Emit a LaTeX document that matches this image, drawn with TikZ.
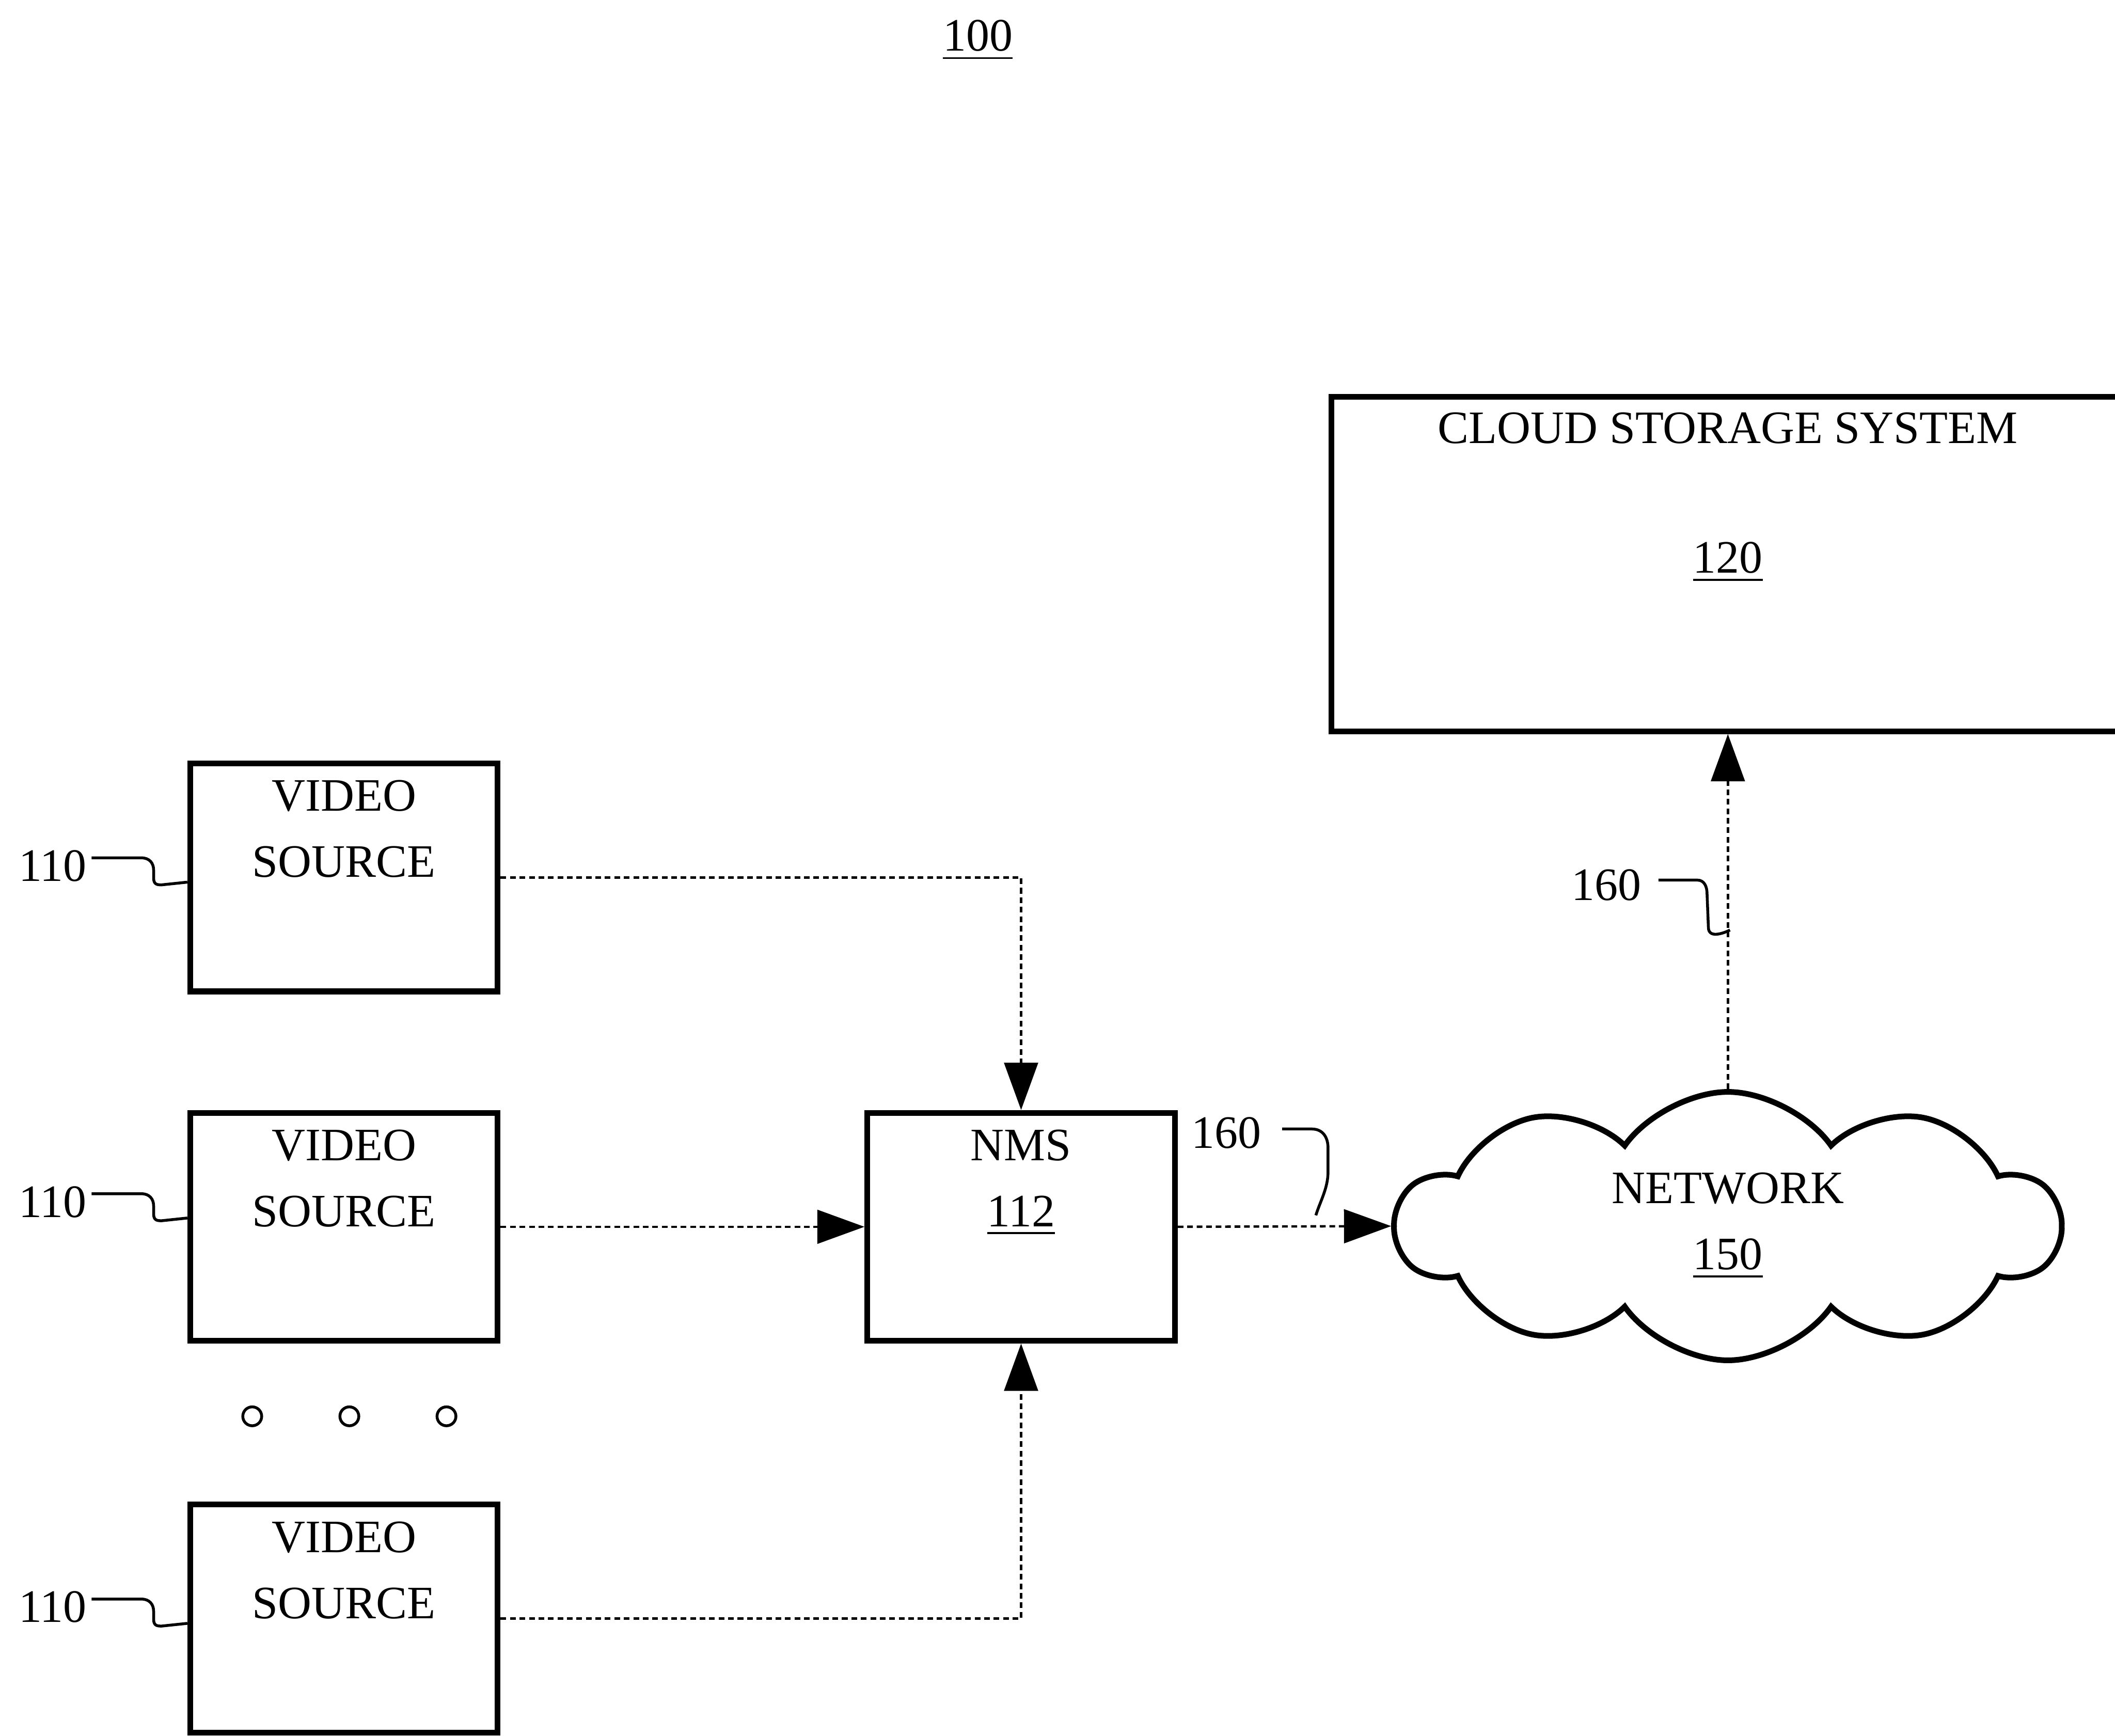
\documentclass[tikz,border=0pt]{standalone}
\usepackage{fontspec}
\setmainfont{Liberation Serif}
\usetikzlibrary{arrows.meta,positioning,shapes.symbols}

\begin{document}
\begin{tikzpicture}[
  box/.style={draw, line width=1.2pt, minimum width=2.28cm, minimum height=1.69cm, inner sep=0pt},
  boxtext/.style={align=center, inner sep=0pt, font=\fontsize{9.8}{13.9}\selectfont},
  refnum/.style={inner sep=0pt, font=\fontsize{9.8}{13.9}\selectfont},
  link/.style={line width=0.5pt, dash pattern=on 1.2pt off 0.8pt, -{Triangle[length=3.5mm, width=2.5mm]}},
  leader/.style={line width=0.6pt},
  dotmark/.style={circle, draw, line width=0.6pt, minimum size=0.14cm, inner sep=0pt}]
  \path[use as bounding box, clip] (0,0) rectangle (15.68,12.87);

  \node[refnum] (fig) at (7.25,12.57) {\underline{100}};

  % storage box runs off the right edge
  \node[box, anchor=north west, minimum width=6.5cm, minimum height=2.48cm] (css) at (9.85,9.95) {};
  \node[boxtext, below=0.13cm of css.north west, xshift=2.96cm, anchor=north] (css-title) {CLOUD STORAGE SYSTEM};
  \node[boxtext] (css-num) at (12.81,8.70) {\underline{120}};

  % sources
  \node[box] (vs1) at (2.55,6.365) {};
  \node[box] (vs2) at (2.55,3.775) {};
  \node[box] (vs3) at (2.55,0.87) {};
  \foreach \s in {vs1,vs2,vs3}
    \node[boxtext, below=0.14cm of \s.north] (\s-txt) {VIDEO\\SOURCE};
  \foreach \x [count=\i] in {1.87,2.59,3.31}
    \node[dotmark] (dot\i) at (\x,2.37) {};

  \node[box] (nms) at (7.57,3.775) {};
  \node[boxtext, below=0.14cm of nms.north] (nms-txt) {NMS\\\underline{112}};

  \node[cloud, draw, line width=1.2pt, cloud puffs=10, cloud puff arc=110, aspect=2.47,
    minimum width=4.91cm, minimum height=1.99cm, inner sep=0pt, align=center,
    font=\fontsize{9.8}{13.9}\selectfont] (net) at (12.81,3.78) {NETWORK\\\underline{150}};

  % links
  \draw[link] (vs1.east) -| (nms.north);
  \draw[link] (vs2.east) -- (nms.west);
  \draw[link] (vs3.east) -| (nms.south);
  \draw[link] (nms.east) -- (net.west);
  \draw[link] (net.north) -- (net.north |- css.south);

  % reference numerals
  \foreach \s/\dy in {vs1/0.085, vs2/0.185, vs3/0.085} {
    \node[refnum, anchor=east] (\s-lbl) at ([shift={(-0.74,\dy)}]\s.west) {110};
    \draw[leader] ([shift={(0.03,0.06)}]\s-lbl.east) -- ++(0.37,0)
      .. controls +(0.06,0) and +(0,0.05) .. ++(0.09,-0.09) -- ++(0,-0.06)
      .. controls +(0,-0.05) and +(-0.03,0) .. ++(0.06,-0.05) -- ++(0.19,0.02);
  }
  \node[refnum] (nms-lbl) at (9.09,4.47) {160};
  \draw[leader] ([shift={(0.15,0.03)}]nms-lbl.east) -- ++(0.22,0)
    .. controls +(0.08,0) and +(0,0.08) .. ++(0.12,-0.14) -- ++(0,-0.18)
    .. controls +(0,-0.12) and +(0.03,0.1) .. ++(-0.09,-0.32);
  \node[refnum] (net-lbl) at (11.91,6.31) {160};
  \draw[leader] ([shift={(0.12,0.035)}]net-lbl.east) -- ++(0.29,0)
    .. controls +(0.05,0) and +(0,0.05) .. ++(0.07,-0.1) -- ++(0.01,-0.25)
    .. controls +(0,-0.08) and +(-0.06,-0.03) .. ++(0.16,-0.02);
\end{tikzpicture}
\end{document}
